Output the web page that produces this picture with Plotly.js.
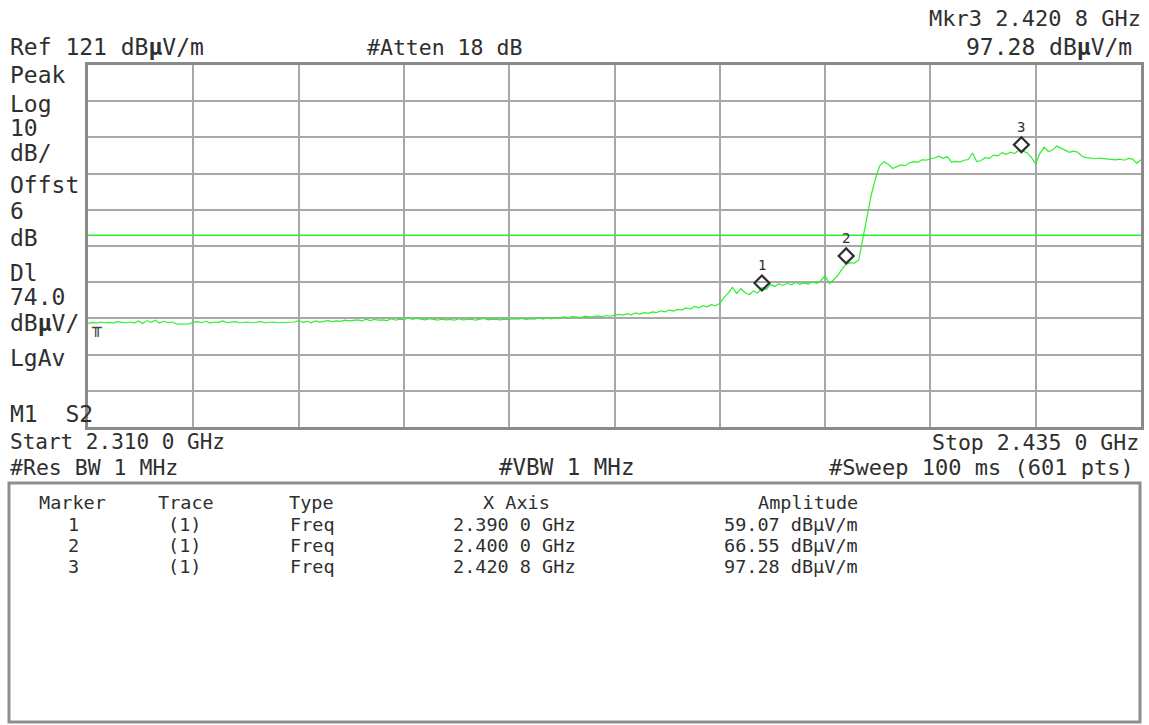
<!DOCTYPE html>
<html>
<head>
<meta charset="utf-8">
<script src="https://cdn.plot.ly/plotly-3.0.1.min.js"></script>
<style>
  html, body { margin: 0; padding: 0; background: #ffffff; }
  #chart { width: 1149px; height: 725px; }
</style>
</head>
<body>
<div id="chart"></div>
<script>
// ---------------- instrument settings ----------------
const START_GHZ = 2.310;
const STOP_GHZ = 2.435;
const REF_LEVEL = 121;          // dBµV/m
const SCALE_DB = 10;            // dB/div
const OFFSET_DB = 6;
const DISPLAY_LINE = 74.0;      // dBµV/m
const ATTEN_DB = 18;
const RBW = '1 MHz';
const VBW = '1 MHz';
const SWEEP = '100 ms';
const SWEEP_POINTS = 601;

// ---------------- trace (0.5 MHz spacing) ----------------
const TRACE_DBUV = [
  // 2310.0 - 2319.5 MHz
  49.6,49.9,49.7,50.0,49.8,49.9,49.7,50.1,49.9,49.8,50.0,49.7,50.3,49.6,50.4,49.9,50.5,49.7,50.2,49.8,
  // 2320.0 - 2329.5
  50.0,49.5,49.4,49.4,49.5,49.9,50.1,49.8,50.2,49.7,50.0,49.9,50.3,49.8,49.9,50.1,49.8,49.9,50.0,49.8,
  // 2330.0 - 2339.5
  49.9,50.1,49.8,49.9,50.0,49.8,49.9,49.8,50.1,50.0,50.4,49.9,50.2,49.8,50.3,50.0,50.2,50.4,50.1,50.3,
  // 2340.0 - 2349.5
  50.2,50.5,50.3,50.4,50.6,50.3,50.8,50.4,50.7,50.5,50.6,50.4,50.9,50.5,50.8,50.6,51.2,50.7,51.0,50.8,
  // 2350.0 - 2359.5
  50.6,50.9,50.7,50.5,50.8,50.6,50.7,50.5,50.9,50.6,50.7,50.8,50.5,50.7,51.0,50.6,50.8,50.7,50.6,50.8,
  // 2360.0 - 2369.5
  50.7,50.9,50.8,51.0,50.7,50.9,50.8,51.1,50.8,51.2,50.9,51.3,51.0,51.4,51.2,51.5,51.3,51.2,51.6,51.4,
  // 2370.0 - 2379.5
  51.5,51.7,51.4,51.8,51.6,51.9,52.1,51.9,52.3,52.0,52.5,52.2,52.6,52.4,52.8,52.6,53.1,52.8,53.3,53.0,
  // 2380.0 - 2389.5
  53.5,53.3,53.9,53.6,54.3,53.9,54.5,54.2,54.8,54.5,55.2,56.8,58.0,59.6,57.9,59.2,58.1,57.6,58.6,58.0,
  // 2390.0 - 2399.5
  59.5,59.0,60.4,59.8,60.6,60.1,60.7,60.3,60.9,60.4,60.8,60.5,61.1,60.7,61.4,62.8,60.6,61.6,62.8,64.6,
  // 2400.0 - 2409.5
  66.0,66.4,66.3,67.2,73.5,79.8,85.3,89.8,93.2,94.3,93.6,92.4,92.9,93.4,93.2,94.0,94.3,94.1,94.8,94.7,
  // 2410.0 - 2419.5
  95.1,95.3,95.8,95.2,95.7,94.2,94.4,94.2,94.7,94.9,96.7,94.3,94.6,95.4,95.2,96.1,95.9,96.8,96.3,96.9,
  // 2420.0 - 2429.5
  96.5,97.5,97.2,96.7,95.4,93.7,96.6,98.3,97.1,97.5,98.6,98.0,97.3,96.9,97.2,96.9,95.8,95.4,95.3,95.1,
  // 2430.0 - 2435.0
  95.3,95.2,95.0,95.1,94.8,95.0,94.7,95.2,95.0,93.9,94.8
];

// ---------------- markers ----------------
const MARKER_IDS = ['1', '2', '3'];
const MARKER_TRACE = ['(1)', '(1)', '(1)'];
const MARKER_TYPE = ['Freq', 'Freq', 'Freq'];
const MARKER_FREQ_GHZ = [2.3900, 2.4000, 2.4208];
const MARKER_AMP = [59.07, 66.55, 97.28];
const ACTIVE_MARKER = 2; // Mkr3

// ---------------- side annotation labels ----------------
const LEFT_LABELS = ['Peak', 'Log', String(SCALE_DB), 'dB/', 'Offst', String(OFFSET_DB), 'dB',
                     'Dl', DISPLAY_LINE.toFixed(1), 'dB<b>µ</b>V/', 'LgAv', 'M1  S2'];
const TABLE_HEADERS = ['Marker', 'Trace', 'Type', 'X Axis', 'Amplitude'];

// ---------------- geometry helpers ----------------
const W = 1149, H = 725;
const M = { l: 88, r: 8, t: 65, b: 298 };
const PW = W - M.l - M.r, PH = H - M.t - M.b;
const px = x => (x - M.l) / PW;
const py = y => (H - M.b - y) / PH;

function fmtGHz(v) {
  const s = v.toFixed(4);
  return s.slice(0, -1) + ' ' + s.slice(-1) + ' GHz';
}

const FONT = 'DejaVu Sans Mono';
const TXT = '#2f2f2f';
const GREEN = 'rgb(45,240,45)';

// sweep frequency grid
const n = TRACE_DBUV.length;
const FREQ_GHZ = TRACE_DBUV.map((_, i) => START_GHZ + i * (STOP_GHZ - START_GHZ) / (n - 1));

const traces = [
  {
    x: FREQ_GHZ, y: TRACE_DBUV, type: 'scatter', mode: 'lines',
    line: { color: GREEN, width: 1.2 },
    hoverinfo: 'skip'
  },
  {
    x: MARKER_FREQ_GHZ, y: MARKER_AMP, type: 'scatter', mode: 'markers', yaxis: 'y2',
    marker: { symbol: 'diamond-open', size: 11.5, color: '#2e2e2e', line: { width: 2.2, color: '#2e2e2e' } },
    hoverinfo: 'skip'
  }
];

const annotations = [];
function addText(text, x, y, anchor, size) {
  annotations.push({
    text: text, xref: 'paper', yref: 'paper', x: px(x), y: py(y),
    xanchor: anchor, yanchor: 'middle', showarrow: false,
    font: { family: FONT, size: size, color: TXT }
  });
}

// top texts
addText('Mkr' + MARKER_IDS[ACTIVE_MARKER] + ' ' + fmtGHz(MARKER_FREQ_GHZ[ACTIVE_MARKER]), 1143, 18, 'right', 22);
addText(MARKER_AMP[ACTIVE_MARKER].toFixed(2) + ' dB<b>µ</b>V/m', 1134, 47, 'right', 23);
addText('Ref ' + REF_LEVEL + ' dB<b>µ</b>V/m', 8, 47, 'left', 23);
addText('#Atten ' + ATTEN_DB + ' dB', 365, 47, 'left', 21.5);

// left labels
const LEFT_Y = [75, 104, 128, 153, 185, 211, 238, 273, 297, 323, 358, 414];
LEFT_LABELS.forEach((t, i) => addText(t, 8, LEFT_Y[i], 'left', 23));

// small reference-level tick glyph at the left edge of the trace
annotations.push({
  text: '╥', xref: 'paper', yref: 'paper', x: px(96), y: py(327),
  xanchor: 'center', yanchor: 'middle', showarrow: false,
  font: { family: FONT, size: 16, color: '#444444' }
});

// bottom texts
addText('Start ' + fmtGHz(START_GHZ), 8, 442, 'left', 21);
addText('Stop ' + fmtGHz(STOP_GHZ), 1141, 442, 'right', 21.5);
addText('#Res BW ' + RBW, 8, 467, 'left', 21.5);
addText('#VBW ' + VBW, 497, 467, 'left', 22.5);
addText('#Sweep ' + SWEEP + ' (' + SWEEP_POINTS + ' pts)', 1136, 467, 'right', 22);

// marker table
const TS = 18.5;
addText(TABLE_HEADERS[0], 37, 503, 'left', TS);
addText(TABLE_HEADERS[1], 156, 503, 'left', TS);
addText(TABLE_HEADERS[2], 287, 503, 'left', TS);
addText(TABLE_HEADERS[3], 516, 503, 'center', TS);
addText(TABLE_HEADERS[4], 860, 503, 'right', TS);
const ROW_Y = [524, 545, 566];
MARKER_IDS.forEach((id, i) => {
  const y = ROW_Y[i];
  addText(id, 73, y, 'center', TS);
  addText(MARKER_TRACE[i], 184, y, 'center', TS);
  addText(MARKER_TYPE[i], 288, y, 'left', TS);
  addText(fmtGHz(MARKER_FREQ_GHZ[i]), 451, y, 'left', TS);
  addText(MARKER_AMP[i].toFixed(2) + ' dBµV/m', 860, y, 'right', TS);
});

// marker number labels above diamonds
MARKER_IDS.forEach((id, i) => {
  annotations.push({
    text: id, xref: 'x', yref: 'y2', x: MARKER_FREQ_GHZ[i], y: MARKER_AMP[i],
    yshift: 18, showarrow: false, xanchor: 'center', yanchor: 'middle',
    font: { family: FONT, size: 14, color: '#2e2e2e' }
  });
});

// diamonds sit ~6 px above the trace point: shift the overlay axis by that many pixels
const DIAMOND_LIFT_DB = 6.2 * (10 * SCALE_DB) / PH;

const shapes = [
  { type: 'line', xref: 'paper', yref: 'y', x0: 0, x1: 1, y0: DISPLAY_LINE, y1: DISPLAY_LINE,
    line: { color: GREEN, width: 1.5 } },
  { type: 'rect', xref: 'paper', yref: 'paper', x0: px(9), x1: px(1140), y0: py(483), y1: py(722),
    line: { color: '#8e8e8e', width: 3 }, fillcolor: 'rgba(0,0,0,0)' }
];

const layout = {
  width: W, height: H,
  margin: { l: M.l, r: M.r, t: M.t, b: M.b, pad: 0 },
  paper_bgcolor: '#ffffff', plot_bgcolor: '#ffffff',
  showlegend: false,
  xaxis: {
    range: [START_GHZ, STOP_GHZ], tick0: START_GHZ, dtick: (STOP_GHZ - START_GHZ) / 10,
    showgrid: true, gridcolor: '#a8a8a8', gridwidth: 2,
    showticklabels: false, ticks: '', zeroline: false,
    showline: true, mirror: true, linecolor: '#8a8a8a', linewidth: 3, fixedrange: true
  },
  yaxis: {
    range: [REF_LEVEL - 10 * SCALE_DB, REF_LEVEL], tick0: REF_LEVEL, dtick: SCALE_DB,
    showgrid: true, gridcolor: '#a8a8a8', gridwidth: 2,
    showticklabels: false, ticks: '', zeroline: false,
    showline: true, mirror: true, linecolor: '#8a8a8a', linewidth: 3, fixedrange: true
  },
  yaxis2: {
    overlaying: 'y', range: [REF_LEVEL - 10 * SCALE_DB - DIAMOND_LIFT_DB, REF_LEVEL - DIAMOND_LIFT_DB],
    showgrid: false, showticklabels: false, ticks: '', zeroline: false, showline: false, fixedrange: true
  },
  annotations: annotations,
  shapes: shapes
};

Plotly.newPlot('chart', traces, layout, { displayModeBar: false, staticPlot: true });
</script>
</body>
</html>
